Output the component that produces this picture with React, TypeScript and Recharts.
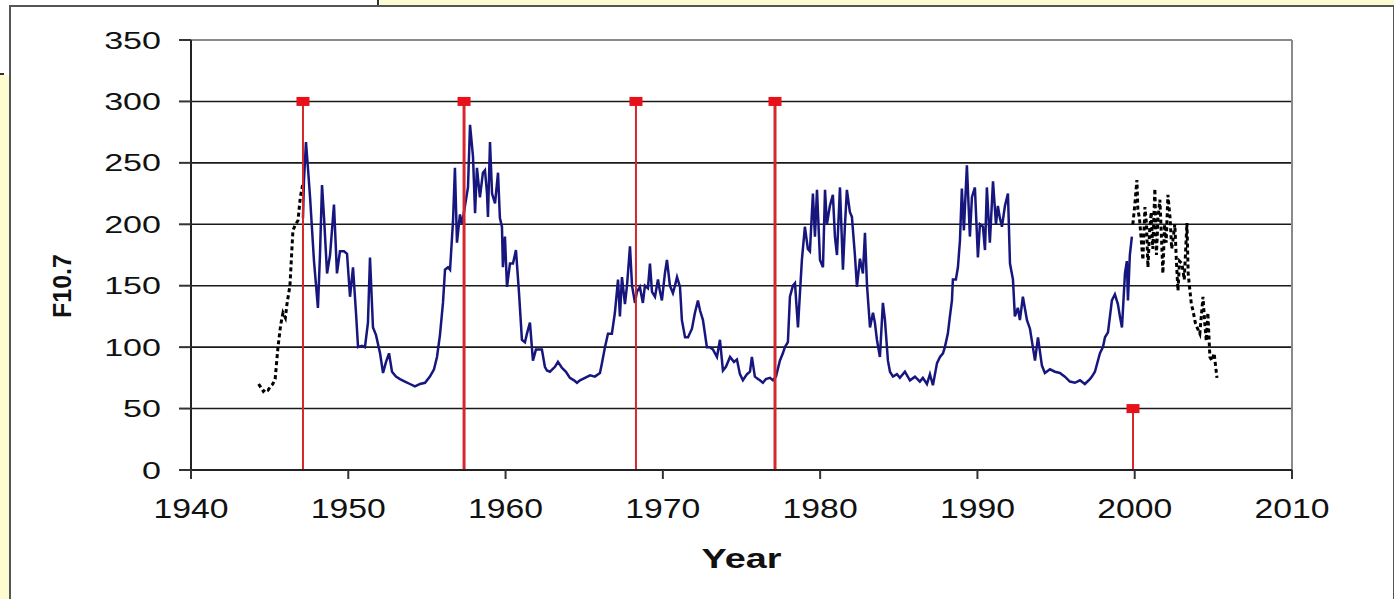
import {
    ComposedChart,
    Line,
    Scatter,
    XAxis,
    YAxis,
    CartesianGrid,
    ReferenceLine,
} from "recharts";

const yearTicks = [1940, 1950, 1960, 1970, 1980, 1990, 2000, 2010];
const fluxTicks = [0, 50, 100, 150, 200, 250, 300, 350];

// monthly-ish F10.7: [year, flux]
const observedF107: [number, number][] = [
    [1947.12, 205], [1947.18, 235], [1947.31, 267], [1947.44, 245], [1947.57, 222],
    [1947.82, 170], [1948.07, 132], [1948.2, 175], [1948.33, 232], [1948.46, 205],
    [1948.65, 160], [1948.84, 175], [1949.09, 216], [1949.28, 160], [1949.47, 178],
    [1949.73, 178], [1949.92, 176], [1950.11, 141], [1950.3, 165], [1950.49, 128],
    [1950.62, 100], [1950.87, 101], [1951.06, 100], [1951.25, 120], [1951.38, 173],
    [1951.57, 116], [1951.76, 110], [1952.02, 95], [1952.21, 79], [1952.4, 88],
    [1952.59, 95], [1952.78, 80], [1953.03, 76], [1953.29, 74], [1953.6, 72],
    [1953.92, 70], [1954.24, 68], [1954.56, 70], [1954.88, 71], [1955.19, 76],
    [1955.45, 82], [1955.64, 92], [1955.83, 110], [1956.02, 136], [1956.15, 163],
    [1956.34, 165], [1956.47, 163], [1956.66, 203], [1956.78, 246], [1956.91, 185],
    [1957.1, 208], [1957.23, 200], [1957.42, 215], [1957.61, 230], [1957.74, 281],
    [1957.93, 255], [1958.06, 209], [1958.18, 246], [1958.37, 222], [1958.56, 242],
    [1958.69, 244], [1958.82, 225], [1958.88, 206], [1959.01, 267], [1959.14, 225],
    [1959.33, 217], [1959.52, 242], [1959.64, 205], [1959.77, 198], [1959.83, 165],
    [1959.96, 190], [1960.09, 149], [1960.28, 168], [1960.47, 168], [1960.66, 179],
    [1960.85, 145], [1961.04, 106], [1961.23, 104], [1961.36, 111], [1961.55, 120],
    [1961.74, 89], [1961.93, 98], [1962.19, 98], [1962.31, 98], [1962.5, 84],
    [1962.63, 81], [1962.82, 80], [1963.14, 84], [1963.33, 88], [1963.59, 83],
    [1963.84, 80], [1964.09, 75], [1964.35, 73], [1964.54, 71], [1964.73, 73],
    [1965.05, 75], [1965.37, 77], [1965.68, 76], [1966.0, 79], [1966.13, 87],
    [1966.32, 100], [1966.51, 111], [1966.76, 111], [1966.95, 128], [1967.15, 155],
    [1967.27, 125], [1967.4, 157], [1967.59, 135], [1967.72, 150], [1967.91, 182],
    [1968.04, 150], [1968.23, 136], [1968.35, 145], [1968.54, 149], [1968.73, 136],
    [1968.86, 150], [1969.05, 148], [1969.18, 168], [1969.31, 145], [1969.5, 141],
    [1969.69, 155], [1969.82, 145], [1969.94, 138], [1970.13, 160], [1970.26, 171],
    [1970.45, 150], [1970.64, 144], [1970.77, 150], [1970.9, 157], [1971.09, 149],
    [1971.21, 122], [1971.41, 108], [1971.6, 108], [1971.85, 115], [1972.04, 128],
    [1972.23, 138], [1972.36, 130], [1972.55, 122], [1972.8, 100], [1972.99, 100],
    [1973.19, 98], [1973.44, 92], [1973.63, 106], [1973.82, 81], [1974.01, 84],
    [1974.27, 92], [1974.52, 88], [1974.71, 90], [1974.9, 78], [1975.09, 73],
    [1975.35, 78], [1975.54, 80], [1975.66, 92], [1975.85, 76], [1976.05, 74],
    [1976.17, 73], [1976.36, 71], [1976.55, 74], [1976.81, 75], [1977.0, 73],
    [1977.19, 76], [1977.44, 89], [1977.63, 95], [1977.76, 100], [1977.95, 104],
    [1978.08, 141], [1978.27, 150], [1978.4, 152], [1978.59, 116], [1978.72, 145],
    [1978.84, 171], [1979.03, 198], [1979.22, 180], [1979.35, 178], [1979.54, 225],
    [1979.67, 190], [1979.8, 228], [1979.99, 171], [1980.18, 165], [1980.31, 228],
    [1980.43, 200], [1980.62, 215], [1980.81, 224], [1980.94, 190], [1981.07, 175],
    [1981.26, 230], [1981.45, 163], [1981.58, 200], [1981.7, 228], [1981.89, 210],
    [1982.02, 206], [1982.21, 175], [1982.34, 149], [1982.53, 172], [1982.72, 160],
    [1982.85, 193], [1982.98, 150], [1983.17, 116], [1983.36, 128], [1983.48, 120],
    [1983.61, 106], [1983.8, 92], [1983.99, 136], [1984.12, 122], [1984.31, 89],
    [1984.44, 80], [1984.63, 76], [1984.88, 78], [1985.07, 75], [1985.39, 80],
    [1985.71, 73], [1986.03, 76], [1986.34, 72], [1986.53, 75], [1986.79, 70],
    [1986.98, 78], [1987.17, 69], [1987.43, 87], [1987.62, 92], [1987.81, 95],
    [1987.93, 100], [1988.12, 111], [1988.25, 125], [1988.38, 138], [1988.44, 155],
    [1988.63, 155], [1988.76, 165], [1988.89, 187], [1989.01, 229], [1989.14, 195],
    [1989.33, 248], [1989.52, 190], [1989.65, 222], [1989.84, 230], [1990.03, 173],
    [1990.16, 200], [1990.35, 198], [1990.48, 179], [1990.6, 230], [1990.79, 185],
    [1990.99, 235], [1991.18, 200], [1991.3, 215], [1991.43, 205], [1991.56, 198],
    [1991.75, 215], [1991.94, 225], [1992.07, 168], [1992.26, 155], [1992.38, 125],
    [1992.57, 132], [1992.7, 122], [1992.89, 141], [1993.15, 122], [1993.34, 115],
    [1993.66, 89], [1993.85, 108], [1994.1, 85], [1994.29, 79], [1994.61, 82],
    [1994.93, 80], [1995.24, 79], [1995.56, 76], [1995.88, 72], [1996.2, 71],
    [1996.52, 73], [1996.83, 70], [1997.15, 74], [1997.28, 76], [1997.47, 80],
    [1997.79, 95], [1997.98, 100], [1998.11, 108], [1998.3, 112], [1998.55, 138],
    [1998.74, 143], [1998.93, 135], [1999.06, 125], [1999.19, 116], [1999.38, 160],
    [1999.5, 170], [1999.57, 138], [1999.69, 175], [1999.82, 190],
];

// reconstructed values before 1947
const earlyF107: [number, number][] = [
    [1944.3, 70], [1944.45, 67], [1944.6, 64], [1944.75, 66], [1944.9, 65],
    [1945.05, 68], [1945.2, 70], [1945.35, 74], [1945.53, 100], [1945.7, 118],
    [1945.85, 128], [1946.0, 124], [1946.1, 135], [1946.29, 150], [1946.48, 195],
    [1946.65, 200], [1946.8, 203], [1946.95, 222], [1947.1, 232],
];

// values after 2000
const lateF107: [number, number][] = [
    [1999.88, 200], [2000.0, 215], [2000.14, 236], [2000.2, 212], [2000.3, 205],
    [2000.4, 190], [2000.52, 171], [2000.65, 214], [2000.75, 200], [2000.84, 165],
    [2000.95, 195], [2001.05, 210], [2001.15, 180], [2001.28, 229], [2001.38, 175],
    [2001.48, 205], [2001.6, 220], [2001.7, 190], [2001.79, 160], [2001.9, 200],
    [2002.0, 185], [2002.11, 224], [2002.25, 205], [2002.35, 180], [2002.43, 187],
    [2002.55, 200], [2002.65, 170], [2002.75, 146], [2002.85, 170], [2003.0, 168],
    [2003.15, 155], [2003.32, 201], [2003.4, 160], [2003.51, 146], [2003.6, 135],
    [2003.7, 130], [2003.85, 120], [2004.0, 115], [2004.14, 111], [2004.34, 141],
    [2004.45, 120], [2004.55, 105], [2004.65, 128], [2004.78, 92], [2004.91, 89],
    [2005.05, 95], [2005.23, 75],
];

const markerYears = [1947.12, 1957.36, 1968.29, 1977.13, 1999.89];
const markerFlux = [300, 300, 300, 300, 50];

const toRows = (pts: [number, number][]) => pts.map(([year, flux]) => ({ year, flux }));
const observedRows = toRows(observedF107);
const earlyRows = toRows(earlyF107);
const lateRows = toRows(lateF107);
const markerRows = markerYears.map((year, i) => ({ year, flux: markerFlux[i] }));

const FONT = "'Liberation Sans', Arial, sans-serif";

function YTick({ x, y, payload }: any) {
    return (
        <text
            x={x}
            y={y}
            textAnchor="end"
            dominantBaseline="central"
            fontFamily={FONT}
            fontSize={24}
            fill="#111"
            transform={`translate(${x} ${y}) scale(1.42 1) translate(${-x} ${-y})`}
        >
            {payload.value}
        </text>
    );
}

function XTick({ x, y, payload }: any) {
    return (
        <text
            x={x}
            y={y + 39}
            textAnchor="middle"
            fontFamily={FONT}
            fontSize={27}
            fill="#111"
            transform={`translate(${x} 0) scale(1.25 1) translate(${-x} 0)`}
        >
            {payload.value}
        </text>
    );
}

function MarkerSquare({ cx, cy }: any) {
    return <rect x={cx - 6.5} y={cy - 4.5} width={13} height={9} fill="#e8101a" />;
}

export default function App() {
    return (
        <div
            style={{
                position: "absolute",
                left: 0,
                top: 0,
                width: 1394,
                height: 599,
                overflow: "hidden",
                background: "#fff",
            }}
        >
            {/* slide edges around the pasted picture */}
            <div style={{ position: "absolute", left: 380, top: 0, width: 1014, height: 6, background: "#fdfbd0" }} />
            <div style={{ position: "absolute", left: 377, top: 0, width: 2, height: 5, background: "#333" }} />
            <div style={{ position: "absolute", left: 0, top: 75, width: 9, height: 524, background: "#fdfbd0" }} />
            <div style={{ position: "absolute", left: 0, top: 73, width: 4, height: 2, background: "#333" }} />
            <div
                style={{
                    position: "absolute",
                    left: 9,
                    top: 5,
                    width: 1382,
                    height: 620,
                    border: "2px solid #555",
                    background: "#fff",
                }}
            />

            <div style={{ position: "absolute", left: 0, top: 0 }}>
                <ComposedChart
                    width={1394}
                    height={599}
                    margin={{ top: 40, right: 102, left: 91, bottom: 69 }}
                >
                    <CartesianGrid vertical={false} stroke="#1a1a1a" strokeWidth={1.6} />
                    <XAxis
                        dataKey="year"
                        type="number"
                        domain={[1940, 2010]}
                        ticks={yearTicks}
                        allowDataOverflow
                        height={60}
                        tickSize={9}
                        tickMargin={0}
                        axisLine={{ stroke: "#222", strokeWidth: 2 }}
                        tickLine={{ stroke: "#333", strokeWidth: 2 }}
                        tick={<XTick />}
                        label={{
                            content: ({ viewBox }: any) => {
                                const cx = viewBox.x + viewBox.width / 2;
                                const by = viewBox.y + 98;
                                return (
                                    <text
                                        x={cx}
                                        y={by}
                                        textAnchor="middle"
                                        fontFamily={FONT}
                                        fontWeight="bold"
                                        fontSize={28}
                                        fill="#111"
                                        transform={`translate(${cx} 0) scale(1.35 1) translate(${-cx} 0)`}
                                    >
                                        Year
                                    </text>
                                );
                            },
                        }}
                    />
                    <YAxis
                        dataKey="flux"
                        type="number"
                        domain={[0, 350]}
                        ticks={fluxTicks}
                        width={100}
                        tickSize={12}
                        tickMargin={18}
                        axisLine={{ stroke: "#222", strokeWidth: 2 }}
                        tickLine={{ stroke: "#333", strokeWidth: 2 }}
                        tick={<YTick />}
                        label={{
                            content: ({ viewBox }: any) => {
                                const cx = viewBox.x - 29;
                                const cy = viewBox.y + 246;
                                return (
                                    <text
                                        x={cx}
                                        y={cy}
                                        textAnchor="middle"
                                        dominantBaseline="central"
                                        fontFamily={FONT}
                                        fontWeight="bold"
                                        fontSize={25}
                                        fill="#111"
                                        transform={`rotate(-90 ${cx} ${cy})`}
                                    >
                                        F10.7
                                    </text>
                                );
                            },
                        }}
                    />
                    <ReferenceLine y={350} stroke="#8a8a8a" strokeWidth={2} />
                    <ReferenceLine x={2010} stroke="#8a8a8a" strokeWidth={2} />

                    <Line
                        data={earlyRows}
                        dataKey="flux"
                        type="linear"
                        stroke="#000"
                        strokeWidth={3}
                        strokeDasharray="4 3"
                        dot={false}
                        isAnimationActive={false}
                    />
                    <Line
                        data={observedRows}
                        dataKey="flux"
                        type="linear"
                        stroke="#16167e"
                        strokeWidth={2.5}
                        dot={false}
                        isAnimationActive={false}
                    />
                    <Line
                        data={lateRows}
                        dataKey="flux"
                        type="linear"
                        stroke="#000"
                        strokeWidth={3}
                        strokeDasharray="4 3"
                        dot={false}
                        isAnimationActive={false}
                    />

                    {markerRows.map((m, i) => (
                        <ReferenceLine
                            key={m.year}
                            segment={[
                                { x: m.year, y: 0 },
                                { x: m.year, y: m.flux },
                            ]}
                            stroke="#d4282c"
                            strokeWidth={i % 2 === 1 ? 3 : 2}
                        />
                    ))}
                    <Scatter
                        data={markerRows}
                        dataKey="flux"
                        shape={<MarkerSquare />}
                        isAnimationActive={false}
                    />
                </ComposedChart>
            </div>
        </div>
    );
}
